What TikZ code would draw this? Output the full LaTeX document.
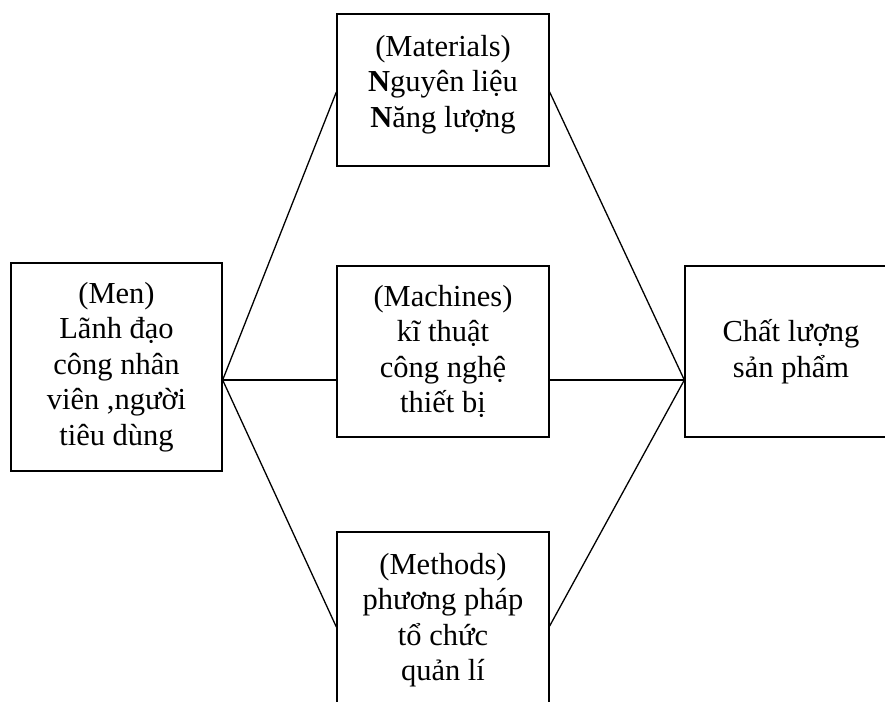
\documentclass[tikz,border=0pt]{standalone}
\usepackage{fontspec}
\setmainfont{Liberation Serif}
\begin{document}
\begin{tikzpicture}[x=1pt,y=1pt,
  box/.style={draw=black,line width=1.3pt,inner sep=0pt,align=center,
    font=\fontsize{30.5}{35.5}\selectfont},
  conn/.style={draw=black,line width=1.3pt}]
\clip (0,0) rectangle (885,-701);
\fill[white] (0,0) rectangle (885,-701);
\node[box,minimum width=211pt,minimum height=208pt] (men) at (116.5,-367)
  {(Men)\\Lãnh đạo\\công nhân\\viên ,người\\tiêu dùng};
\node[box,minimum width=212pt,minimum height=152pt] (materials) at (443,-90)
  {(Materials)\\\textbf{N}guyên liệu\\\textbf{N}ăng lượng\\[-18pt]\mbox{}};
\node[box,minimum width=212pt,minimum height=171pt] (machines) at (443,-351.5)
  {(Machines)\\kĩ thuật\\công nghệ\\thiết bị};
\node[box,minimum width=212pt,minimum height=180pt] (methods) at (443,-622)
  {(Methods)\\phương pháp\\tổ chức\\quản lí\\[-25pt]\mbox{}};
\node[box,minimum width=212pt,minimum height=171pt] (quality) at (791,-351.5)
  {Chất lượng\\sản phẩm};
\coordinate (j1) at ([yshift=-13pt]men.east);
\coordinate (j2) at ([yshift=-28.5pt]quality.west);
\draw[conn] (j1) -- ([yshift=-2pt]materials.west);
\draw[conn] (j1) -- ([yshift=-28.5pt]machines.west);
\draw[conn] (j1) -- ([yshift=-5pt]methods.west);
\draw[conn] ([yshift=-2pt]materials.east) -- (j2);
\draw[conn] ([yshift=-28.5pt]machines.east) -- (j2);
\draw[conn] ([yshift=-4pt]methods.east) -- (j2);
\end{tikzpicture}
\end{document}
